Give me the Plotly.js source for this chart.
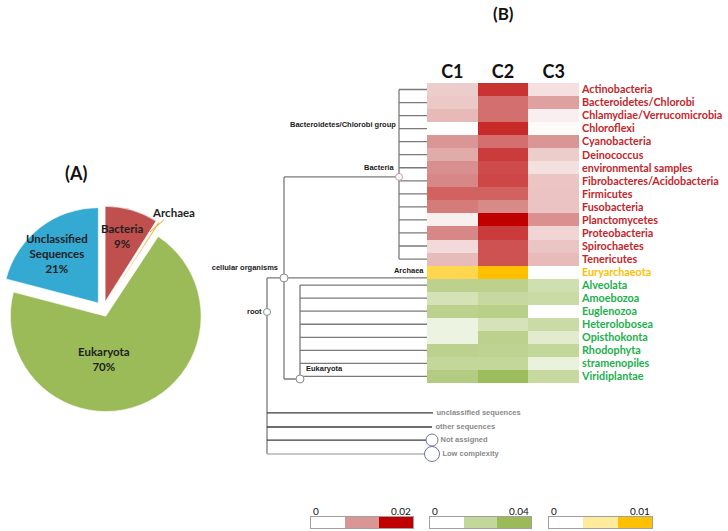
<!DOCTYPE html>
<html><head><meta charset="utf-8">
<script src="https://cdn.plot.ly/plotly-3.0.1.min.js"></script>
<style>body{margin:0;background:#fff}#chart{width:728px;height:531px}</style>
</head><body><div id="chart"></div>
<script>
// ---------- Panel A: pie ----------
const pieLabels = ['Bacteria', 'Archaea', 'Eukaryota', 'Unclassified<br>Sequences'];
const pieValues = [9, 0.3, 70, 21];
const pieColors = ['#c0504d', '#f5b335', '#9bbb59', '#34a9d1'];

// ---------- Panel B: heatmap ----------
const columns = ['C1', 'C2', 'C3'];
const bacteria = ['Actinobacteria','Bacteroidetes/Chlorobi','Chlamydiae/Verrucomicrobia','Chloroflexi','Cyanobacteria','Deinococcus','environmental samples','Fibrobacteres/Acidobacteria','Firmicutes','Fusobacteria','Planctomycetes','Proteobacteria','Spirochaetes','Tenericutes'];
const bactC1 = [0.0048,0.0052,0.0066,0.0000,0.0100,0.0080,0.0105,0.0110,0.0135,0.0118,0.0015,0.0110,0.0035,0.0065];
const bactC2 = [0.0166,0.0126,0.0126,0.0172,0.0126,0.0160,0.0150,0.0153,0.0135,0.0108,0.0200,0.0160,0.0145,0.0145];
const bactC3 = [0.0030,0.0090,0.0015,0.0005,0.0100,0.0048,0.0030,0.0055,0.0057,0.0057,0.0104,0.0040,0.0055,0.0065];
const archaea = ['Euryarchaeota'];
const archC1 = [0.0075];
const archC2 = [0.0100];
const archC3 = [0.0000];
const eukaryota = ['Alveolata','Amoebozoa','Euglenozoa','Heterolobosea','Opisthokonta','Rhodophyta','stramenopiles','Viridiplantae'];
const eukC1 = [0.024,0.0146,0.024,0.006,0.006,0.024,0.020,0.028];
const eukC2 = [0.024,0.019,0.026,0.014,0.024,0.023,0.020,0.039];
const eukC3 = [0.016,0.018,0.000,0.018,0.010,0.020,0.007,0.019];

// colour legends
const legendMin = ['0', '0', '0'];
const legendMax = ['0.02', '0.04', '0.01'];
const legendSteps = [[0, 0.01, 0.02], [0, 0.02, 0.04], [0, 0.005, 0.01]];

// ---------- Panel B: tree ----------
const innerNames  = ['root','cellular organisms','Bacteria','Archaea','Eukaryota','unclassified sequences','other sequences','Not assigned','Low complexity'];
const innerParent = [null,'root','cellular organisms','cellular organisms','cellular organisms','root','root','root','root'];
const innerDepth  = [267, 284, 399, 427, 300, 433, 432, 432, 432];
const innerRow    = [17.06, 14.45, 6.7, 14.45, 22.2, 24.8, 25.88, 26.88, 27.95];
const leafDepth = 427;

// ---------- build ----------
const redScale = [[0,'#ffffff'],[0.5,'#da9694'],[1,'#c00000']];
const greenScale = [[0,'#ffffff'],[0.5,'#c4d79b'],[1,'#9bbb59']];
const yellowScale = [[0,'#ffffff'],[0.5,'#ffeb9c'],[1,'#ffc000']];
const scales = [redScale, greenScale, yellowScale];
const nRows = bacteria.length + archaea.length + eukaryota.length;
const rowIdx = Array.from({length: nRows}, (_, i) => i);

function groupZ(offset, c1, c2, c3) {
  const z = rowIdx.map(() => [null, null, null]);
  c1.forEach((v, i) => { z[offset + i] = [c1[i], c2[i], c3[i]]; });
  return z;
}
const hmBase = {type:'heatmap', x:[0,1,2], y:rowIdx, xaxis:'x', yaxis:'y', showscale:false, hoverinfo:'skip', zmin:0};
const traces = [];
traces.push(Object.assign({}, hmBase, {z: groupZ(0, bactC1, bactC2, bactC3), colorscale: redScale, zmax: 0.02}));
traces.push(Object.assign({}, hmBase, {z: groupZ(bacteria.length, archC1, archC2, archC3), colorscale: yellowScale, zmax: 0.01}));
traces.push(Object.assign({}, hmBase, {z: groupZ(bacteria.length + archaea.length, eukC1, eukC2, eukC3), colorscale: greenScale, zmax: 0.04}));

// legend bars
[0, 1, 2].forEach(k => {
  traces.push({type:'heatmap', z:[legendSteps[k]], x:[0,1,2], y:[0], xaxis:'x' + (k + 2), yaxis:'y' + (k + 2),
    colorscale: scales[k], zmin: 0, zmax: legendSteps[k][2], showscale:false, hoverinfo:'skip'});
});

// tree nodes (inner + leaves)
const nodes = [];
innerNames.forEach((n, i) => nodes.push({name:n, parent:innerParent[i], x:innerDepth[i], y:innerRow[i]}));
bacteria.forEach((n, i) => nodes.push({name:n, parent:'Bacteria', x:leafDepth, y:i}));
eukaryota.forEach((n, i) => nodes.push({name:n, parent:'Eukaryota', x:leafDepth, y:bacteria.length + archaea.length + i}));
const byName = {}; nodes.forEach(n => byName[n.name] = n);

const lineGroups = {main:{x:[],y:[],c:'#7a7a7a'}, dark:{x:[],y:[],c:'#3c3c3c'}, light:{x:[],y:[],c:'#b4b4b4'}};
function groupOf(name) {
  if (['unclassified sequences','other sequences','Not assigned'].includes(name)) return 'dark';
  if (name === 'Low complexity') return 'light';
  return 'main';
}
nodes.forEach(n => {
  if (!n.parent) return;
  const p = byName[n.parent];
  const g = lineGroups[groupOf(n.name)];
  g.x.push(p.x, n.x, null); g.y.push(n.y, n.y, null);
});
innerNames.forEach(pn => {
  const kids = nodes.filter(n => n.parent === pn);
  if (!kids.length) return;
  const p = byName[pn];
  const ys = kids.map(k => k.y);
  const g = lineGroups.main;
  g.x.push(p.x, p.x, null); g.y.push(Math.min(...ys), Math.max(...ys), null);
});
Object.values(lineGroups).forEach(g => traces.push({type:'scatter', mode:'lines', x:g.x, y:g.y, xaxis:'x5', yaxis:'y',
  line:{color:g.c, width:1.3}, hoverinfo:'skip', showlegend:false}));

// node circles and labels
const circleNodes = ['Bacteria','cellular organisms','root','Eukaryota','Not assigned','Low complexity','Archaea','unclassified sequences','other sequences'];
const circleSize = {'Bacteria':7,'cellular organisms':8,'root':7,'Eukaryota':8,'Not assigned':12,'Low complexity':15};
const circleLine = {'Bacteria':'#c99a9a','Not assigned':'#7072a8','Low complexity':'#7072a8'};
const labelPos = {'Bacteria':'top left','cellular organisms':'top left','root':'middle left','Eukaryota':'top right','Archaea':'top left'};
const grayLabel = ['unclassified sequences','other sequences','Not assigned','Low complexity'];
traces.push({type:'scatter', mode:'markers+text', xaxis:'x5', yaxis:'y', hoverinfo:'skip', showlegend:false, cliponaxis:false,
  x: circleNodes.map(n => byName[n].x), y: circleNodes.map(n => byName[n].y),
  text: circleNodes,
  textposition: circleNodes.map(n => labelPos[n] || 'middle right'),
  textfont: {family:'Liberation Sans, Arial', size: 7.5,
    color: circleNodes.map(n => grayLabel.includes(n) ? '#8a8a8a' : '#1a1a1a'), weight: 700},
  marker: {size: circleNodes.map(n => circleSize[n] || 4), color:'#ffffff',
    opacity: circleNodes.map(n => circleSize[n] ? 1 : 0),
    line: {width: 1, color: circleNodes.map(n => circleLine[n] || '#8a8a8a')}}
});

// pie
traces.push({type:'pie', labels:pieLabels, values:pieValues, sort:false, direction:'clockwise', rotation:0,
  marker:{colors:pieColors, line:{color:'#ffffff', width:0.6}}, pull:[0.08,0.08,0.08,0.08],
  textinfo:'none', hoverinfo:'skip', showlegend:false,
  domain:{x:[0, 206/728], y:[0.224, 0.612]}});

// tick labels
const labelColor = ['#c3262b','#ffc000','#22b04c'];
const allRows = [].concat(bacteria.map(n => [n, 0]), archaea.map(n => [n, 1]), eukaryota.map(n => [n, 2]));
const tickText = allRows.map(r => '<span style="color:' + labelColor[r[1]] + '">' + r[0] + '</span>');

const px = v => v / 728, py = v => 1 - v / 531;
const legAx = (d0, d1) => ({domain:[px(d0), px(d1)], range:[-0.5, 2.5], showgrid:false, zeroline:false, showticklabels:false, ticks:'',
  showline:true, mirror:true, linecolor:'#a0a0a0', linewidth:1});
const legY = k => ({domain:[py(528), py(517)], range:[-0.5, 0.5], showgrid:false, zeroline:false, showticklabels:false, ticks:'',
  showline:true, mirror:true, linecolor:'#a0a0a0', linewidth:1, anchor:'x' + k});
const legX = [[311, 413], [430, 531], [549, 652]];

const boldFont = (size, color) => ({family:'Lato', size:size, color:color, weight:700});
const annotations = [];
const pieTextPos = [[122, 236], null, [104, 359], [57, 253]];
pieLabels.forEach((l, i) => {
  if (!pieTextPos[i]) return;
  annotations.push({xref:'paper', yref:'paper', x:px(pieTextPos[i][0]), y:py(pieTextPos[i][1]), xanchor:'center', yanchor:'middle',
    showarrow:false, text:l + '<br>' + pieValues[i] + '%', font:boldFont(11.5, '#1e1e1e'), align:'center'});
});
annotations.push({xref:'paper', yref:'paper', x:px(150), y:py(232), ax:23, ay:-20, xanchor:'center', yanchor:'middle',
  showarrow:true, arrowhead:0, arrowwidth:1, arrowcolor:'#f0a030', standoff:0, text:pieLabels[1], font:boldFont(11.5, '#1e1e1e')});
annotations.push({xref:'paper', yref:'paper', x:px(76), y:py(173), xanchor:'center', yanchor:'middle', showarrow:false,
  text:'(A)', font:boldFont(18, '#111')});
annotations.push({xref:'paper', yref:'paper', x:px(503), y:py(13), xanchor:'center', yanchor:'middle', showarrow:false,
  text:'(B)', font:boldFont(17, '#111')});
annotations.push({xref:'x5', yref:'y', x:398, y:2.65, xanchor:'right', yanchor:'middle', showarrow:false, text:'Bacteroidetes/Chlorobi group',
  font:{family:'Liberation Sans, Arial', size:7.5, color:'#1a1a1a', weight:700}});
legX.forEach((d, k) => {
  annotations.push({xref:'x' + (k + 2), yref:'paper', x:-0.5, y:py(511), xanchor:'left', yanchor:'middle', showarrow:false,
    text:legendMin[k], font:{family:'Lato', size:10, color:'#111'}});
  annotations.push({xref:'x' + (k + 2), yref:'paper', x:2.5, y:py(511), xanchor:'right', yanchor:'middle', showarrow:false,
    text:legendMax[k], font:{family:'Lato', size:10, color:'#111'}});
});

const layout = {
  width:728, height:531, margin:{l:0, r:0, t:0, b:0}, paper_bgcolor:'#ffffff', plot_bgcolor:'rgba(0,0,0,0)', showlegend:false,
  font:{family:'Lato'},
  xaxis:{domain:[px(427), px(579)], range:[-0.5, 2.5], side:'top', tickvals:[0,1,2], ticktext:columns, ticks:'',
    tickfont:boldFont(18, '#111'), showgrid:false, zeroline:false, anchor:'y', fixedrange:true, ticklabelstandoff:0},
  yaxis:{domain:[py(83 + 30 * 13.04), py(83)], range:[29.5, -0.5], side:'right', anchor:'x', tickvals:rowIdx, ticktext:tickText,
    ticks:'', tickfont:boldFont(10.8, '#c3262b'), showgrid:false, zeroline:false, fixedrange:true, ticklabelstandoff:2},
  xaxis5:{domain:[0, 1], range:[0, 728], anchor:'y', visible:false, showgrid:false, zeroline:false, fixedrange:true},
  xaxis2:Object.assign(legAx(legX[0][0], legX[0][1]), {anchor:'y2'}), yaxis2:legY(2),
  xaxis3:Object.assign(legAx(legX[1][0], legX[1][1]), {anchor:'y3'}), yaxis3:legY(3),
  xaxis4:Object.assign(legAx(legX[2][0], legX[2][1]), {anchor:'y4'}), yaxis4:legY(4),
  annotations: annotations
};
Plotly.newPlot('chart', traces, layout, {displayModeBar:false, staticPlot:true});
</script></body></html>
